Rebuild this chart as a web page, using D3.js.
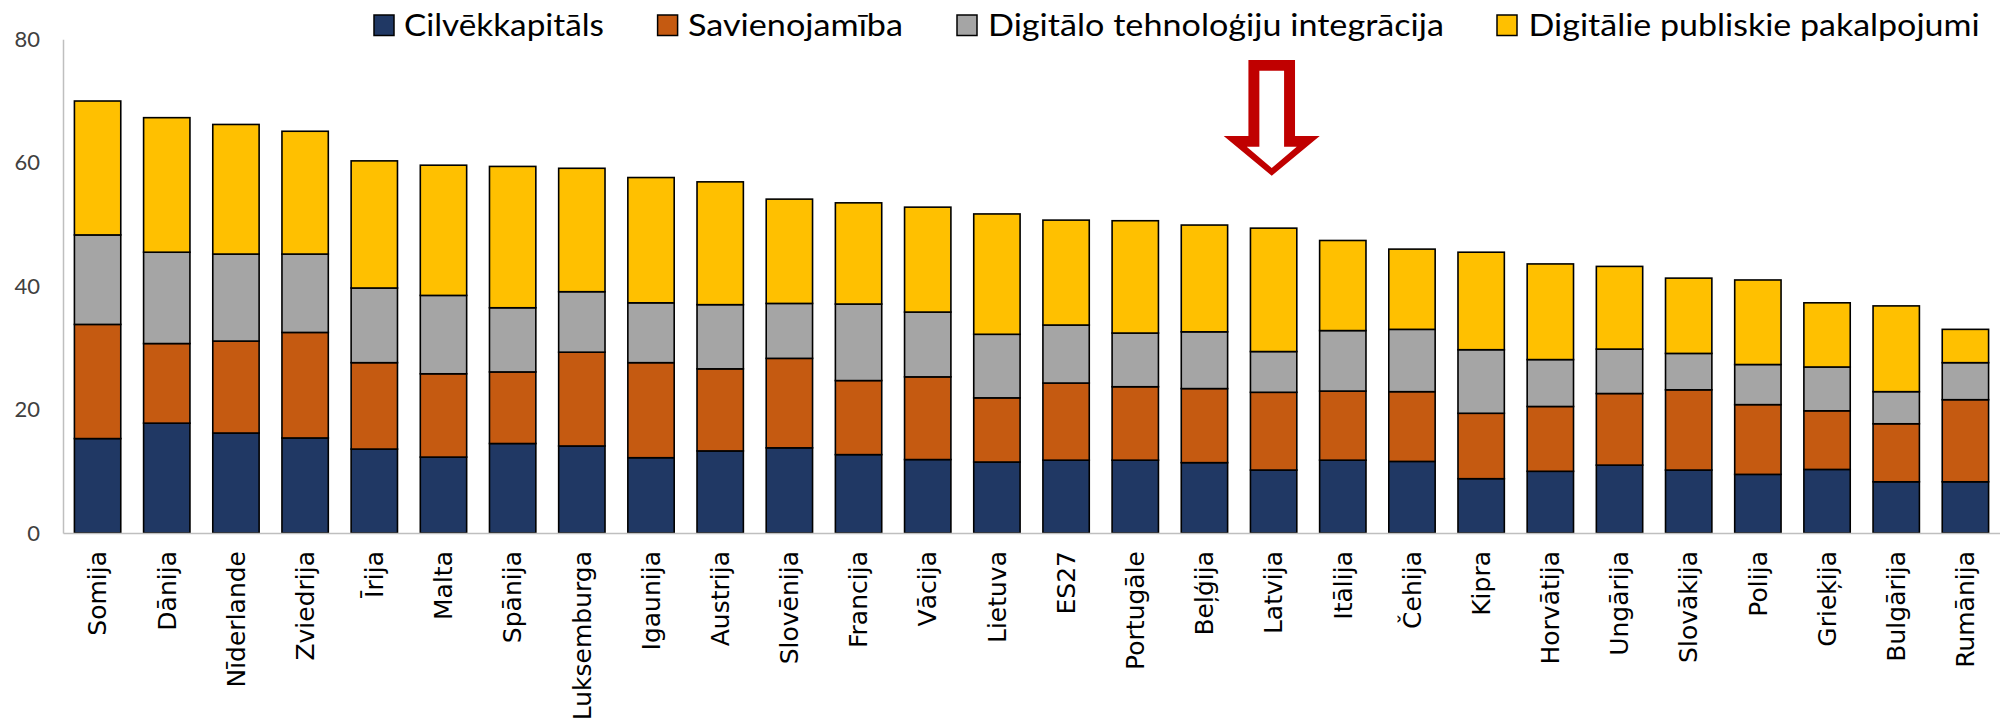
<!DOCTYPE html>
<html><head><meta charset="utf-8">
<script src="https://cdn.jsdelivr.net/npm/d3@7"></script>
<style>body{margin:0;background:#fff;} svg{display:block;}</style>
</head><body>
<svg id="c" width="2000" height="726"></svg>
<script>
const categories = ["Somija","Dānija","Nīderlande","Zviedrija","Īrija","Malta","Spānija","Luksemburga","Igaunija","Austrija","Slovēnija","Francija","Vācija","Lietuva","ES27","Portugāle","Beļģija","Latvija","Itālija","Čehija","Kipra","Horvātija","Ungārija","Slovākija","Polija","Grieķija","Bulgārija","Rumānija"];
const seriesNames = ["Cilvēkkapitāls","Savienojamība","Digitālo tehnoloģiju integrācija","Digitālie publiskie pakalpojumi"];
const humanCapital = [15.3,17.8,16.2,15.4,13.6,12.3,14.5,14.1,12.2,13.3,13.8,12.7,11.9,11.5,11.8,11.8,11.4,10.2,11.8,11.6,8.8,10.0,11.0,10.2,9.5,10.3,8.3,8.3];
const connectivity = [18.5,12.9,14.9,17.1,14.0,13.5,11.6,15.2,15.4,13.3,14.5,12.0,13.4,10.4,12.5,11.9,12.0,12.6,11.2,11.3,10.6,10.5,11.6,13.0,11.3,9.5,9.4,13.3];
const integration = [14.5,14.8,14.1,12.7,12.1,12.7,10.4,9.8,9.7,10.4,8.9,12.4,10.5,10.3,9.4,8.7,9.2,6.6,9.8,10.1,10.3,7.6,7.2,5.9,6.5,7.1,5.2,6.0];
const publicServices = [21.7,21.8,21.0,19.9,20.6,21.1,22.9,20.0,20.3,19.9,16.9,16.4,17.0,19.5,17.0,18.2,17.3,20.0,14.6,13.0,15.8,15.5,13.4,12.2,13.7,10.4,13.9,5.4];
const yTicks = [0,20,40,60,80];
const colors = ["#203864","#C55A11","#A5A5A5","#FFC000"];
const highlight = "Latvija";

const svg = d3.select("#c");
const x = d3.scaleBand().domain(categories).range([63,2000]).paddingInner(0.33).paddingOuter(0.165);
const y = d3.scaleLinear().domain([0,80]).range([533,39.3]);

const rows = categories.map((c,i)=>({cat:c, s0:humanCapital[i], s1:connectivity[i], s2:integration[i], s3:publicServices[i]}));
const stack = d3.stack().keys(["s0","s1","s2","s3"])(rows);

svg.append("g").selectAll("g").data(stack).join("g")
  .attr("fill",(d,i)=>colors[i])
  .selectAll("rect").data(d=>d).join("rect")
  .attr("x",d=>x(d.data.cat))
  .attr("width",x.bandwidth())
  .attr("y",d=>y(d[1]))
  .attr("height",d=>y(d[0])-y(d[1]))
  .attr("stroke","#000").attr("stroke-width",1.6);

// y axis
const ya = svg.append("g").attr("transform","translate(63,0)")
  .call(d3.axisLeft(y).tickValues(yTicks).tickSize(0).tickPadding(23));
ya.select(".domain").attr("stroke","#bfbfbf").attr("stroke-width",1.5);
ya.selectAll("text").attr("font-family","Lato, 'Open Sans', sans-serif").attr("font-size",22).attr("fill","#404040");

// x axis
const xa = svg.append("g").attr("transform","translate(0,533)")
  .call(d3.axisBottom(x).tickSize(0).tickPadding(0));
xa.select(".domain").attr("stroke","#bfbfbf").attr("stroke-width",1.5);
xa.selectAll("text")
  .attr("font-family","'DejaVu Sans', sans-serif").attr("font-size",25).attr("fill","#000")
  .attr("text-anchor","end").attr("transform","translate(0,18) rotate(-90)")
  .attr("x",0).attr("y",0).attr("dy","0.35em");

// legend
const legX = [374,657.6,957,1497];
const legTX = [404,688,988,1528.6];
const legW = [200,215,456,451];
const lg = svg.append("g");
seriesNames.forEach((n,i)=>{
  lg.append("rect").attr("x",legX[i]).attr("y",15).attr("width",20).attr("height",20.5)
    .attr("fill",colors[i]).attr("stroke","#000").attr("stroke-width",1.5);
  lg.append("text").attr("x",legTX[i]).attr("y",35.5).text(n)
    .attr("font-family","Lato, 'Open Sans', sans-serif").attr("font-size",31).attr("fill","#000")
    .attr("textLength",legW[i]).attr("lengthAdjust","spacingAndGlyphs");
});

// hollow arrow above highlight
const acx = x(highlight)+x.bandwidth()/2 - 1.9;
const outer = [[-23.3,60],[23.3,60],[23.3,136],[48,136],[0,175.7],[-48,136],[-23.3,136]];
const inner = [[-12.35,70.7],[12.35,70.7],[12.35,146.7],[25,146.7],[0,168],[-25,146.7],[-12.35,146.7]];
const toPath = p => "M"+p.map(q=>[acx+q[0],q[1]].join(",")).join("L")+"Z";
svg.append("path").attr("d",toPath(outer)).attr("fill","#C00000");
svg.append("path").attr("d",toPath(inner)).attr("fill","#fff");
</script>
</body></html>
